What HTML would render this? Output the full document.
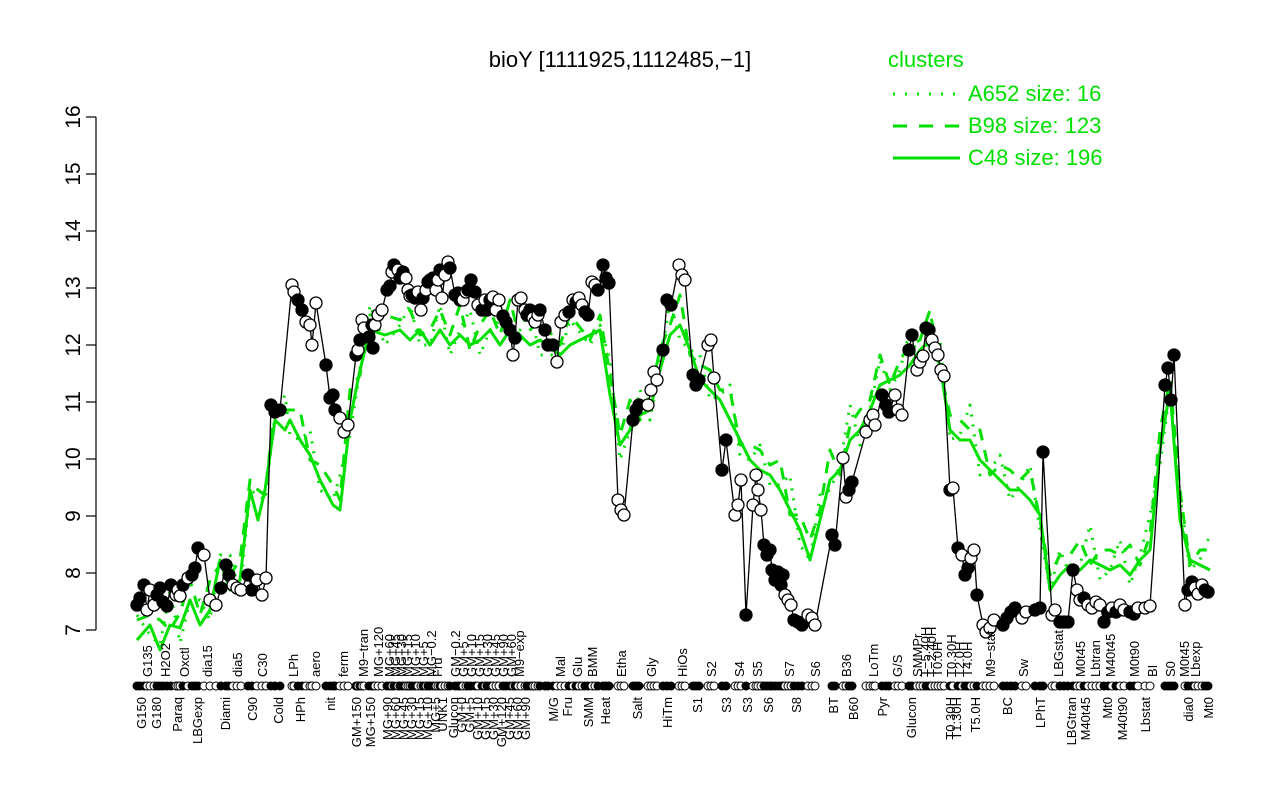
<!DOCTYPE html>
<html><head><meta charset="utf-8"><style>
body{margin:0;background:#fff;width:1280px;height:800px;overflow:hidden}
svg text{font-family:"Liberation Sans",sans-serif}
</style></head><body>
<svg id="s" width="1280" height="800" xmlns="http://www.w3.org/2000/svg">
<text x="620" y="67" font-size="22" text-anchor="middle">bioY [1111925,1112485,−1]</text>
<g stroke="#000" stroke-width="1.2">
<line x1="96" y1="117" x2="96" y2="630"/>
<line x1="86" y1="117" x2="96" y2="117"/><line x1="86" y1="174" x2="96" y2="174"/><line x1="86" y1="231" x2="96" y2="231"/><line x1="86" y1="288" x2="96" y2="288"/><line x1="86" y1="345" x2="96" y2="345"/><line x1="86" y1="402" x2="96" y2="402"/><line x1="86" y1="459" x2="96" y2="459"/><line x1="86" y1="516" x2="96" y2="516"/><line x1="86" y1="573" x2="96" y2="573"/><line x1="86" y1="630" x2="96" y2="630"/>
</g>
<g font-size="21" text-anchor="middle">
<text transform="translate(80,117) rotate(-90)">16</text><text transform="translate(80,174) rotate(-90)">15</text><text transform="translate(80,231) rotate(-90)">14</text><text transform="translate(80,288) rotate(-90)">13</text><text transform="translate(80,345) rotate(-90)">12</text><text transform="translate(80,402) rotate(-90)">11</text><text transform="translate(80,459) rotate(-90)">10</text><text transform="translate(80,516) rotate(-90)">9</text><text transform="translate(80,573) rotate(-90)">8</text><text transform="translate(80,630) rotate(-90)">7</text>
</g>
<g fill="#00e000" font-size="22">
<text x="888" y="67">clusters</text>
<text x="968" y="101">A652 size: 16</text>
<text x="968" y="133">B98 size: 123</text>
<text x="968" y="165">C48 size: 196</text>
</g>
<g stroke="#00e000" stroke-width="3">
<line x1="893" y1="94" x2="960" y2="94" stroke-dasharray="2,10"/>
<line x1="893" y1="126" x2="960" y2="126" stroke-dasharray="14,12"/>
<line x1="893" y1="158" x2="960" y2="158"/>
</g>
<g id="g"></g>
<g id="b"></g>
<g id="r"></g>
<g font-size="13" id="top">
<text transform="translate(152,677) rotate(-90)">G135</text>
<text transform="translate(170,677) rotate(-90)">H2O2</text>
<text transform="translate(189,677) rotate(-90)">Oxctl</text>
<text transform="translate(212,677) rotate(-90)">dia15</text>
<text transform="translate(242,677) rotate(-90)">dia5</text>
<text transform="translate(267,677) rotate(-90)">C30</text>
<text transform="translate(298,677) rotate(-90)">LPh</text>
<text transform="translate(320,677) rotate(-90)">aero</text>
<text transform="translate(348,677) rotate(-90)">ferm</text>
<text transform="translate(368,677) rotate(-90)">M9−tran</text>
<text transform="translate(383,677) rotate(-90)">MG+120</text>
<text transform="translate(394,677) rotate(-90)">MG+60</text>
<text transform="translate(400,677) rotate(-90)">MG+45</text>
<text transform="translate(406,677) rotate(-90)">MG+30</text>
<text transform="translate(412,677) rotate(-90)">MG+15</text>
<text transform="translate(420,677) rotate(-90)">MG+10</text>
<text transform="translate(428,677) rotate(-90)">MG+5</text>
<text transform="translate(436,677) rotate(-90)">MG−0.2</text>
<text transform="translate(442,677) rotate(-90)">Fru</text>
<text transform="translate(460,677) rotate(-90)">GM−0.2</text>
<text transform="translate(468,677) rotate(-90)">GM+5</text>
<text transform="translate(476,677) rotate(-90)">GM+10</text>
<text transform="translate(484,677) rotate(-90)">GM+15</text>
<text transform="translate(492,677) rotate(-90)">GM+30</text>
<text transform="translate(500,677) rotate(-90)">GM+45</text>
<text transform="translate(508,677) rotate(-90)">GM+90</text>
<text transform="translate(516,677) rotate(-90)">GM+60</text>
<text transform="translate(524,677) rotate(-90)">M9−exp</text>
<text transform="translate(565,677) rotate(-90)">Mal</text>
<text transform="translate(582,677) rotate(-90)">Glu</text>
<text transform="translate(597,677) rotate(-90)">BMM</text>
<text transform="translate(626,677) rotate(-90)">Etha</text>
<text transform="translate(656,677) rotate(-90)">Gly</text>
<text transform="translate(687,677) rotate(-90)">HiOs</text>
<text transform="translate(716,677) rotate(-90)">S2</text>
<text transform="translate(744,677) rotate(-90)">S4</text>
<text transform="translate(762,677) rotate(-90)">S5</text>
<text transform="translate(794,677) rotate(-90)">S7</text>
<text transform="translate(820,677) rotate(-90)">S6</text>
<text transform="translate(851,677) rotate(-90)">B36</text>
<text transform="translate(878,677) rotate(-90)">LoTm</text>
<text transform="translate(902,677) rotate(-90)">G/S</text>
<text transform="translate(922,677) rotate(-90)">SMMPr</text>
<text transform="translate(930,677) rotate(-90)">T−5.40H</text>
<text transform="translate(936,677) rotate(-90)">T−2.40H</text>
<text transform="translate(942,677) rotate(-90)">T0.0H</text>
<text transform="translate(956,677) rotate(-90)">T0.30H</text>
<text transform="translate(964,677) rotate(-90)">T2.0H</text>
<text transform="translate(972,677) rotate(-90)">T4.0H</text>
<text transform="translate(995,677) rotate(-90)">M9−stat</text>
<text transform="translate(1028,677) rotate(-90)">Sw</text>
<text transform="translate(1063,677) rotate(-90)">LBGstat</text>
<text transform="translate(1085,677) rotate(-90)">M0t45</text>
<text transform="translate(1100,677) rotate(-90)">Lbtran</text>
<text transform="translate(1115,677) rotate(-90)">M40t45</text>
<text transform="translate(1139,677) rotate(-90)">M0t90</text>
<text transform="translate(1157,677) rotate(-90)">BI</text>
<text transform="translate(1175,677) rotate(-90)">S0</text>
<text transform="translate(1189,677) rotate(-90)">M0t45</text>
<text transform="translate(1200,677) rotate(-90)">Lbexp</text>
</g>
<g font-size="13" text-anchor="end">
<text transform="translate(146,697) rotate(-90)">G150</text>
<text transform="translate(161,697) rotate(-90)">G180</text>
<text transform="translate(182,697) rotate(-90)">Paraq</text>
<text transform="translate(202,697) rotate(-90)">LBGexp</text>
<text transform="translate(230,697) rotate(-90)">Diami</text>
<text transform="translate(257,697) rotate(-90)">C90</text>
<text transform="translate(283,697) rotate(-90)">Cold</text>
<text transform="translate(305,697) rotate(-90)">HPh</text>
<text transform="translate(335,697) rotate(-90)">nit</text>
<text transform="translate(361,697) rotate(-90)">GM+150</text>
<text transform="translate(375,697) rotate(-90)">MG+150</text>
<text transform="translate(392,697) rotate(-90)">MG+90</text>
<text transform="translate(400,697) rotate(-90)">MG+60</text>
<text transform="translate(408,697) rotate(-90)">MG+45</text>
<text transform="translate(416,697) rotate(-90)">MG+30</text>
<text transform="translate(424,697) rotate(-90)">MG+15</text>
<text transform="translate(432,697) rotate(-90)">MG+10</text>
<text transform="translate(440,697) rotate(-90)">MG+5</text>
<text transform="translate(447,697) rotate(-90)">UNK1</text>
<text transform="translate(458,697) rotate(-90)">Glucon</text>
<text transform="translate(466,697) rotate(-90)">GM+0</text>
<text transform="translate(474,697) rotate(-90)">GM+5</text>
<text transform="translate(482,697) rotate(-90)">GM+10</text>
<text transform="translate(490,697) rotate(-90)">GM+15</text>
<text transform="translate(498,697) rotate(-90)">GM+30</text>
<text transform="translate(506,697) rotate(-90)">GM+120</text>
<text transform="translate(514,697) rotate(-90)">GM+45</text>
<text transform="translate(522,697) rotate(-90)">GM+60</text>
<text transform="translate(530,697) rotate(-90)">GM+90</text>
<text transform="translate(558,697) rotate(-90)">M/G</text>
<text transform="translate(572,697) rotate(-90)">Fru</text>
<text transform="translate(593,697) rotate(-90)">SMM</text>
<text transform="translate(610,697) rotate(-90)">Heat</text>
<text transform="translate(642,697) rotate(-90)">Salt</text>
<text transform="translate(672,697) rotate(-90)">HiTm</text>
<text transform="translate(702,697) rotate(-90)">S1</text>
<text transform="translate(731,697) rotate(-90)">S3</text>
<text transform="translate(752,697) rotate(-90)">S3</text>
<text transform="translate(773,697) rotate(-90)">S6</text>
<text transform="translate(801,697) rotate(-90)">S8</text>
<text transform="translate(838,697) rotate(-90)">BT</text>
<text transform="translate(858,697) rotate(-90)">B60</text>
<text transform="translate(887,697) rotate(-90)">Pyr</text>
<text transform="translate(916,697) rotate(-90)">Glucon</text>
<text transform="translate(955,697) rotate(-90)">T0.30H</text>
<text transform="translate(961,697) rotate(-90)">T1.30H</text>
<text transform="translate(980,697) rotate(-90)">T5.0H</text>
<text transform="translate(1012,697) rotate(-90)">BC</text>
<text transform="translate(1045,697) rotate(-90)">LPhT</text>
<text transform="translate(1076,697) rotate(-90)">LBGtran</text>
<text transform="translate(1090,697) rotate(-90)">M40t45</text>
<text transform="translate(1112,697) rotate(-90)">Mt0</text>
<text transform="translate(1127,697) rotate(-90)">M40t90</text>
<text transform="translate(1150,697) rotate(-90)">Lbstat</text>
<text transform="translate(1193,697) rotate(-90)">dia0</text>
<text transform="translate(1213,697) rotate(-90)">Mt0</text>
</g>
</svg>
<script>
var NS="http://www.w3.org/2000/svg";
function el(p,t,a){var e=document.createElementNS(NS,t);for(var k in a)e.setAttribute(k,a[k]);p.appendChild(e);return e;}
var B="137,605f;140,598f;144,585f;147,610o;150,590o;154,605o;157,595f;160,588f;163,602f;167,606f;171,585f;176,595o;178,590o;180,596o;183,585f;188,578o;192,575f;195,568f;198,548f;204,555o;210,600o;216,605o;221,588f;226,565f;229,575f;233,585o;237,588o;241,590o;248,575f;252,590f;257,580o;262,595o;266,578o;271,405f;275,412f;280,410f;292,285o;294,292o;298,300f;302,310f;306,322o;310,325o;312,345o;316,303o;326,365f;330,398f;333,395f;335,410f;340,418o;344,432o;348,425o;356,355f;358,350o;360,340f;362,320o;364,328o;369,337f;372,325f;373,348f;375,325o;378,315o;382,310o;387,290f;390,286f;392,272o;394,265f;398,270o;400,278f;403,272f;406,278o;408,290o;410,296o;412,295f;415,298f;418,292o;421,310o;423,298f;426,290o;428,282f;430,280f;433,278f;436,290o;438,280o;440,270f;442,298o;445,275o;448,262o;450,268f;455,295f;458,293f;460,300f;463,300o;466,292o;468,290f;471,280f;475,292f;478,305o;482,310f;485,300o;487,310f;490,300f;493,297o;496,310o;499,300o;503,316f;506,322f;510,330f;513,355o;515,338f;518,300o;521,298o;525,310o;527,315f;530,310f;533,318o;535,322o;538,315o;540,310f;545,330f;548,345f;553,345f;557,362o;561,322o;565,315o;569,312f;573,300o;576,302f;579,298o;582,305o;585,312f;588,315f;592,282o;595,285o;598,290f;603,265f;606,278f;609,283f;618,500o;621,510o;624,515o;633,420f;636,410f;639,405f;648,405o;651,390o;654,372o;657,380o;663,350f;667,300f;671,305f;679,265o;682,275o;685,280o;693,375f;696,385f;699,380f;708,345o;711,340o;714,378o;722,470f;726,440f;735,515o;738,505o;741,480o;746,615f;753,505o;756,475o;758,490o;761,510o;764,545f;767,555f;770,550f;772,570f;775,580f;778,572f;781,585f;783,575f;785,595o;788,600o;791,605o;794,620f;798,622f;802,625f;808,615o;812,618o;815,625o;832,535f;835,545f;843,458o;846,497o;849,490f;852,482f;866,432o;870,420o;873,415o;875,425o;882,395f;886,405f;889,412f;895,395o;898,410o;902,415o;909,350f;912,335f;917,370o;920,362o;923,356o;926,328f;929,330f;932,340o;935,348o;938,355o;941,370o;944,376o;950,490f;953,488o;958,548f;962,555o;965,575f;968,568f;971,558o;974,550o;977,595f;983,625o;986,632o;990,628o;994,620o;1003,625f;1007,618f;1011,612f;1015,608f;1022,618o;1026,612o;1035,610f;1040,608f;1043,452f;1052,615o;1055,610o;1060,622f;1064,622f;1068,622f;1073,570f;1077,590o;1080,600o;1084,598f;1088,605o;1092,608o;1096,602o;1100,605o;1104,622f;1108,612f;1112,608o;1116,612f;1120,605o;1124,610o;1130,612f;1134,614f;1138,608o;1145,608o;1150,606o;1165,385f;1168,368f;1171,400f;1174,355f;1185,605o;1188,590f;1192,582f;1195,588o;1198,594o;1202,585o;1205,590f;1208,592f";
var G="137,640;150,625;160,650;170,625;180,628;190,600;200,625;210,610;220,560;230,590;240,580;250,490;258,520;265,490;275,420;285,430;290,420;300,440;310,455;320,480;333,505;340,510;350,420;360,370;370,330;385,335;400,330;410,340;420,330;430,345;440,330;450,345;460,335;470,345;480,340;490,330;500,345;510,330;520,335;530,345;540,340;560,355;570,345;590,335;600,330;610,395;620,445;630,430;640,415;650,410;660,370;670,335;680,325;690,350;700,380;710,390;720,400;730,420;740,440;750,460;760,470;770,475;780,490;790,510;800,530;810,560;820,520;830,480;840,470;850,440;860,430;870,410;880,385;890,380;900,375;910,365;920,350;930,340;940,365;950,430;960,440;970,440;980,460;990,470;1000,480;1010,490;1020,490;1030,500;1040,515;1050,590;1060,575;1070,565;1080,570;1090,560;1100,565;1110,570;1120,565;1130,575;1140,560;1150,550;1160,450;1170,390;1180,520;1190,560;1200,565;1210,570";
var gp=G.split(";").map(function(s){return s.split(",").map(Number)});
var g=document.getElementById("g");
function pl(off,dash,w){el(g,"polyline",{points:gp.map(function(p,i){return p[0]+","+(p[1]+off[i%off.length])}).join(" "),fill:"none",stroke:"#00e000","stroke-width":w,"stroke-dasharray":dash,"stroke-linejoin":"round"});}
pl([0],"",3);
pl([-20,-10,-30,5,-15],"12,10",3);
pl([-25,10,-5,-35,15,0],"2,8",3);
var bp=B.split(";").map(function(s){return [parseFloat(s),parseFloat(s.split(",")[1]),s.slice(-1)]});
var b=document.getElementById("b");
el(b,"polyline",{points:bp.map(function(p){return p[0]+","+p[1]}).join(" "),fill:"none",stroke:"#000","stroke-width":1.3});
bp.forEach(function(p){el(b,"circle",{cx:p[0],cy:p[1],r:6,fill:p[2]=="f"?"#000":"#fff",stroke:"#000","stroke-width":1.3});});
var r=document.getElementById("r");
bp.forEach(function(p){el(r,"circle",{cx:p[0],cy:686,r:4,fill:p[2]=="f"?"#000":"#fff",stroke:"#000","stroke-width":1});});
</script>
</body></html>
